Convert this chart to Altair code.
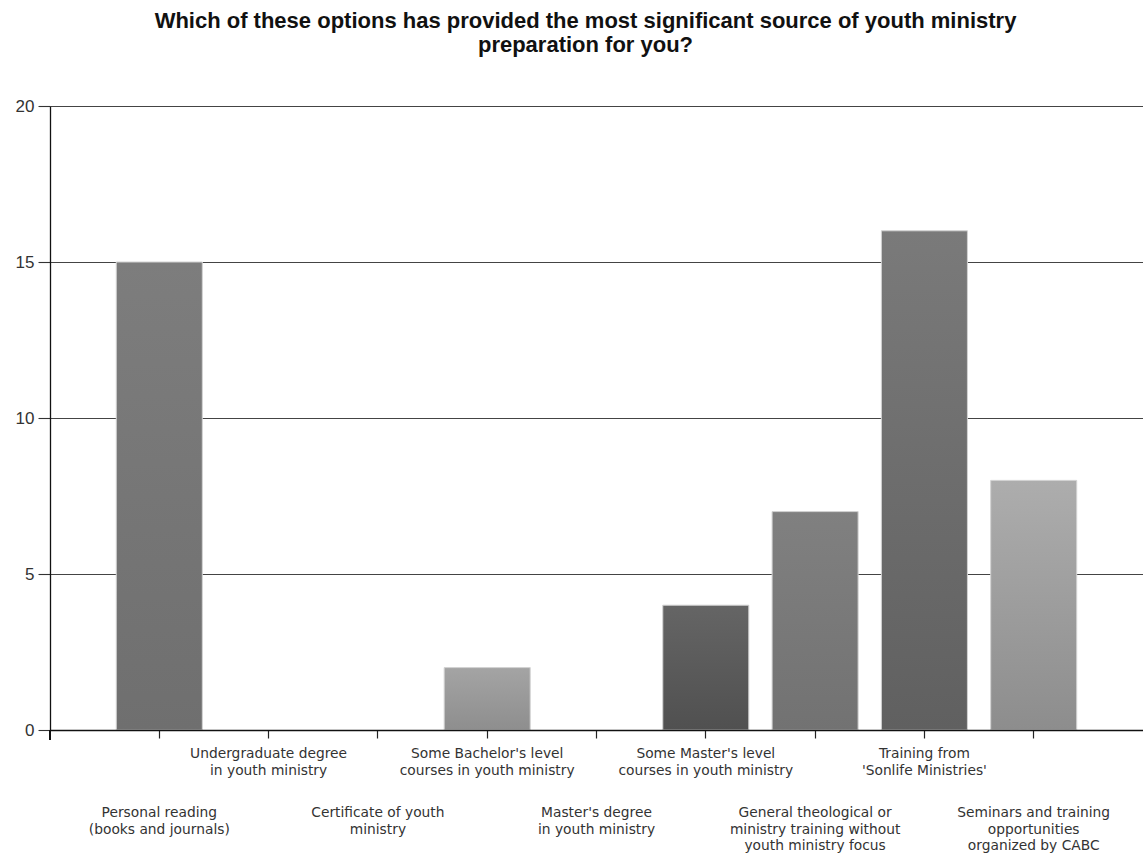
import altair as alt
import pandas as pd

# Survey question and answers
question = [
    "Which of these options has provided the most significant source of youth ministry",
    "preparation for you?",
]

categories = [
    "Personal reading (books and journals)",
    "Undergraduate degree in youth ministry",
    "Certificate of youth ministry",
    "Some Bachelor's level courses in youth ministry",
    "Master's degree in youth ministry",
    "Some Master's level courses in youth ministry",
    "General theological or ministry training without youth ministry focus",
    "Training from 'Sonlife Ministries'",
    "Seminars and training opportunities organized by CABC",
]

tick_labels = [
    "Personal reading\n(books and journals)",
    "Undergraduate degree\nin youth ministry",
    "Certificate of youth\nministry",
    "Some Bachelor's level\ncourses in youth ministry",
    "Master's degree\nin youth ministry",
    "Some Master's level\ncourses in youth ministry",
    "General theological or\nministry training without\nyouth ministry focus",
    "Training from\n'Sonlife Ministries'",
    "Seminars and training\nopportunities\norganized by CABC",
]

responses = [15, 0, 0, 2, 0, 4, 7, 16, 8]

y_ticks = [0, 5, 10, 15, 20]

# Per-bar shading (top colour, bottom colour)
shading = {
    categories[0]: ("#7d7d7d", "#6f6f6f"),
    categories[1]: ("#7d7d7d", "#6f6f6f"),
    categories[2]: ("#7d7d7d", "#6f6f6f"),
    categories[3]: ("#a4a4a4", "#8e8e8e"),
    categories[4]: ("#7d7d7d", "#6f6f6f"),
    categories[5]: ("#656565", "#505050"),
    categories[6]: ("#808080", "#727272"),
    categories[7]: ("#7a7a7a", "#606060"),
    categories[8]: ("#adadad", "#8d8d8d"),
}

df = pd.DataFrame({
    "category": categories,
    "label": tick_labels,
    "responses": responses,
    "row": ["upper" if i % 2 else "lower" for i in range(len(categories))],
})

W, H = 1093, 624

x_enc = alt.X(
    "category:N",
    sort=categories,
    scale=alt.Scale(paddingInner=0.213, paddingOuter=0.6065),
    axis=alt.Axis(
        title=None, labels=False, grid=False,
        tickSize=8, tickColor="#222", tickWidth=1.2,
        domainColor="#111", domainWidth=1.5, zindex=1,
    ),
)
y_enc = alt.Y(
    "responses:Q",
    scale=alt.Scale(domain=[0, 20], nice=False),
    axis=alt.Axis(
        title=None, values=y_ticks, grid=True,
        gridColor="#444", gridWidth=1.1,
        tickSize=12, tickColor="#333", tickWidth=1.1,
        domainColor="#111", domainWidth=1.3,
        labelFont="Liberation Sans", labelFontSize=17, labelColor="#333",
        labelPadding=4,
    ),
)

base = alt.Chart(df)

layers = []
for cat in categories:
    top, bottom = shading[cat]
    grad = alt.Gradient(
        gradient="linear",
        stops=[alt.GradientStop(color=top, offset=0),
               alt.GradientStop(color=bottom, offset=1)],
        x1=0, x2=0, y1=0, y2=1,
    )
    layers.append(
        base.transform_filter((alt.datum.category == cat) & (alt.datum.responses > 0))
        .mark_bar(color=grad, stroke="#d2d2d2", strokeWidth=1)
        .encode(x=x_enc, y=y_enc)
    )

label_style = dict(
    align="center", baseline="top", lineBreak="\n",
    font="DejaVu Sans", fontSize=13.8, color="#333", lineHeight=16.5,
)
upper_labels = base.transform_filter(alt.datum.row == "upper").mark_text(**label_style).encode(
    x=x_enc, y=alt.value(H + 17), text="label:N"
)
lower_labels = base.transform_filter(alt.datum.row == "lower").mark_text(**label_style).encode(
    x=x_enc, y=alt.value(H + 76), text="label:N"
)

# y-axis line continues a little below the baseline
axis_stub = base.mark_rule(color="#111", strokeWidth=1.3).encode(
    x=alt.value(0), y=alt.value(H), y2=alt.value(H + 10)
)

chart = alt.layer(*layers, upper_labels, lower_labels, axis_stub).properties(
    width=W,
    height=H,
    title=alt.TitleParams(
        text=question, font="Liberation Sans", fontSize=22, fontWeight="bold",
        color="#111", anchor="middle", dx=-11, offset=40, lineHeight=24,
    ),
    padding={"left": 50, "top": 106, "right": 0, "bottom": 125},
    autosize=alt.AutoSizeParams(type="none"),
).configure_view(stroke=None).configure(background="white")

chart.save("out.html", embed_options={"renderer": "svg", "actions": False})
